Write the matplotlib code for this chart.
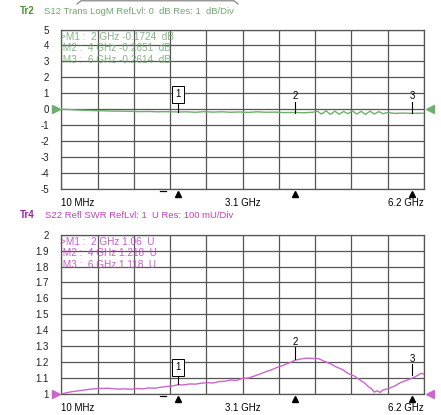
import numpy as np
import matplotlib.pyplot as plt
from matplotlib.lines import Line2D
from matplotlib.transforms import blended_transform_factory

plt.rcParams['font.family'] = ['Liberation Sans', 'DejaVu Sans']

# -------------------------------------------------------------------
# DADOS (lidos do print do analisador)
# -------------------------------------------------------------------
F_MIN, F_MAX = 0.01, 6.2          # GHz
marker_freq = [2, 4, 6]           # GHz

# Tr2 - S12 LogM (dB)
s12_freq = [0.01, 0.15, 0.3, 0.45, 0.6, 0.75, 0.9, 1.05, 1.2, 1.35, 1.5, 1.65,
            1.8, 2.0, 2.15, 2.3, 2.45, 2.6, 2.75, 2.9, 3.05, 3.2, 3.35, 3.5,
            3.65, 3.8, 4.0, 4.15, 4.3, 4.38, 4.45, 4.53, 4.6, 4.68, 4.75, 4.83,
            4.9, 4.98, 5.05, 5.13, 5.2, 5.28, 5.35, 5.43, 5.5, 5.58, 5.7, 5.85,
            6.0, 6.1, 6.2]
s12_val = [0.0, -0.02, -0.05, -0.07, -0.09, -0.1, -0.12, -0.12, -0.13, -0.15,
           -0.14, -0.16, -0.15, -0.17, -0.16, -0.19, -0.15, -0.18, -0.16, -0.19,
           -0.17, -0.2, -0.16, -0.19, -0.18, -0.21, -0.2, -0.22, -0.19, -0.12,
           -0.3, -0.1, -0.32, -0.12, -0.31, -0.14, -0.28, -0.1, -0.3, -0.13,
           -0.32, -0.12, -0.3, -0.15, -0.28, -0.2, -0.26, -0.24, -0.26, -0.25,
           -0.25]
s12_markers = ['M1 :  2 GHz -0.1724  dB', 'M2 :  4 GHz -0.2651  dB',
               'M3 :  6 GHz -0.2614  dB']
s12_mval = [-0.1724, -0.2651, -0.2614]

# Tr4 - S22 SWR (U)
s22_freq = [0.01, 0.1, 0.2, 0.3, 0.4, 0.5, 0.6, 0.7, 0.8, 0.9, 1.0, 1.1, 1.2,
            1.3, 1.4, 1.5, 1.6, 1.7, 1.8, 1.9, 2.0, 2.1, 2.2, 2.3, 2.4, 2.5,
            2.6, 2.7, 2.8, 2.9, 3.0, 3.1, 3.2, 3.3, 3.4, 3.5, 3.6, 3.7, 3.8,
            3.9, 4.0, 4.1, 4.2, 4.3, 4.4, 4.5, 4.6, 4.7, 4.8, 4.9, 5.0, 5.1,
            5.2, 5.25, 5.3, 5.35, 5.4, 5.45, 5.5, 5.6, 5.7, 5.8, 5.9, 6.0,
            6.1, 6.15, 6.2]
s22_val = [1.0, 1.008, 1.015, 1.02, 1.025, 1.03, 1.033, 1.035, 1.036, 1.033,
           1.031, 1.032, 1.03, 1.034, 1.032, 1.038, 1.036, 1.042, 1.047, 1.05,
           1.058, 1.057, 1.063, 1.062, 1.068, 1.071, 1.069, 1.078, 1.08, 1.088,
           1.085, 1.098, 1.1, 1.112, 1.125, 1.14, 1.152, 1.168, 1.18, 1.195,
           1.212, 1.22, 1.225, 1.223, 1.222, 1.205, 1.19, 1.17, 1.155, 1.13,
           1.115, 1.09, 1.065, 1.045, 1.035, 1.012, 1.02, 1.01, 1.025, 1.035,
           1.05, 1.072, 1.085, 1.1, 1.118, 1.13, 1.125]
s22_markers = ['M1 :  2 GHz 1.06  U', 'M2 :  4 GHz 1.218  U',
               'M3 :  6 GHz 1.118  U']
s22_mval = [1.06, 1.218, 1.118]

GREEN_TXT = '#6fa86f'
GREEN_TR = '#4f8f3f'
GREEN_LINE = '#6cb06c'
MAG_TXT = '#c040c0'
MAG_TR = '#a020a0'
MAG_LINE = '#cc66cc'
GRID = '#555555'

fig = plt.figure(figsize=(4.41, 4.15), dpi=100)
W, H = 441, 415


def px_axes(x0, y0, x1, y1):
    return fig.add_axes([x0 / W, 1 - y1 / H, (x1 - x0) / W, (y1 - y0) / H])


def painel(ax, freq, val, ylo, yhi, yticks, ylabels, cor_txt, cor_line,
           marcas, mval, rotulos_y, linhas_y, caixa_y):
    ax.set_xlim(F_MIN, F_MAX)
    ax.set_ylim(ylo, yhi)
    ax.set_xticks(np.linspace(F_MIN, F_MAX, 11))
    ax.set_xticklabels([])
    ax.set_yticks(yticks)
    ax.set_yticklabels(ylabels)
    ax.tick_params(length=0, pad=9, labelsize=7, labelcolor='#222222')
    ax.grid(True, color=GRID, lw=0.9)
    for s in ax.spines.values():
        s.set_color(GRID)
        s.set_linewidth(0.9)

    ax.plot(freq, val, color=cor_line, lw=1.0, zorder=3)

    # texto das leituras dos marcadores
    for i, t in enumerate(marcas):
        pre = '>' if i == 0 else ' '
        ax.text(-0.004, 0.955 - i * 0.073, pre + t, transform=ax.transAxes,
                fontsize=7.2, color=cor_txt, alpha=0.85, va='center',
                ha='left', zorder=4)

    # marcadores 1, 2, 3
    for i, (f, v) in enumerate(zip(marker_freq, mval)):
        ax.plot([f, f], [linhas_y[i], v], color='black', lw=0.8, zorder=4)
        if i == 0:
            ax.text(f, caixa_y, '1', ha='center', va='center', fontsize=7,
                    zorder=5, bbox=dict(boxstyle='square,pad=0.35',
                                        fc='white', ec='black', lw=0.7))
        else:
            ax.text(f, rotulos_y[i], str(i + 1), ha='center', va='center',
                    fontsize=7, zorder=5)

    tr = blended_transform_factory(ax.transData, ax.transAxes)
    ax.plot(marker_freq, [-0.03] * 3, marker='^', ls='none', ms=5,
            color='black', transform=tr, clip_on=False)
    ax.plot([0.272, 0.29], [-0.01, -0.01], color='black', lw=0.9,
            transform=ax.transAxes, clip_on=False)

    # setas de referencia nas laterais
    tr2 = blended_transform_factory(ax.transAxes, ax.transData)
    ax.plot([-0.014], [ylo if ylo == 1 else 0], marker='>', ms=6,
            color=cor_line, transform=tr2, clip_on=False)
    ax.plot([1.016], [ylo if ylo == 1 else 0], marker='<', ms=6,
            color=cor_line, transform=tr2, clip_on=False)

    # rótulos do eixo x
    ax.text(0.0, -0.085, '10 MHz', transform=ax.transAxes, ha='left',
            va='center', fontsize=7)
    ax.text(0.5, -0.085, '3.1 GHz', transform=ax.transAxes, ha='center',
            va='center', fontsize=7)
    ax.text(1.0, -0.085, '6.2 GHz', transform=ax.transAxes, ha='right',
            va='center', fontsize=7)


# -------------------------------------------------------------------
# Tr2
# -------------------------------------------------------------------
ax1 = px_axes(61.3, 29.5, 424, 189)
painel(ax1, s12_freq, s12_val, -5, 5, list(range(-5, 6)),
       [str(v) for v in range(-5, 6)], GREEN_TXT, GREEN_LINE,
       s12_markers, s12_mval, [0, 0.84, 0.84], [0.5, 0.44, 0.44], 0.95)

fig.text(20 / W, 1 - 11 / H, 'Tr2', fontsize=7, fontweight='bold',
         color=GREEN_TR, va='center')
fig.text(44 / W, 1 - 11 / H, 'S12 Trans LogM RefLvl: 0  dB Res: 1  dB/Div',
         fontsize=6.8, color=GREEN_TXT, va='center')

# -------------------------------------------------------------------
# Tr4
# -------------------------------------------------------------------
ax2 = px_axes(61.3, 234.7, 424, 394)
yt = [1 + i / 10 for i in range(11)]
yl = ['1'] + [f'{v:.1f}' for v in yt[1:-1]] + ['2']
painel(ax2, s22_freq, s22_val, 1, 2, yt, yl, MAG_TXT, MAG_LINE,
       s22_markers, s22_mval, [0, 1.324, 1.218], [1.124, 1.296, 1.189], 1.167)

fig.text(20 / W, 1 - 215 / H, 'Tr4', fontsize=7, fontweight='bold',
         color=MAG_TR, va='center')
fig.text(45 / W, 1 - 215 / H, 'S22 Refl SWR RefLvl: 1  U Res: 100 mU/Div',
         fontsize=6.8, color=MAG_TXT, va='center')

# resto de um elemento cortado no topo
fig.add_artist(Line2D(np.array([77, 81, 234, 238]) / W,
                      1 - np.array([4, 0.8, 0.8, 4]) / H,
                      color='#777777', lw=0.8))

fig.savefig('out.png', dpi=100, facecolor='white')
